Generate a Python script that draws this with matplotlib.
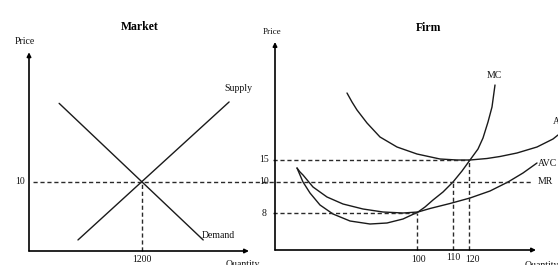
from matplotlib import pyplot as plt

plt.rcParams['font.family'] = ['Liberation Serif', 'DejaVu Serif']

W, H = 558, 265

# ---- Market panel (real units) ----
market_q_ticks = [1200]
market_p_ticks = [10]
supply_q = [520, 2125]
supply_p = [1.6, 21.6]
demand_q = [320, 1850]
demand_p = [21.4, 1.6]

# ---- Firm panel (schematic diagram units, not to scale) ----
firm_p_pos = [37, 68, 90]
firm_p_labels = ['8', '10', '15']
firm_q_pos = [142, 178, 194]
firm_q_labels = ['100', '110', '120']

mc_x = [22, 25, 28, 35, 45, 58, 75, 95, 112, 128, 143, 150, 158, 168, 178,
        187, 195, 203, 208, 213, 217, 220]
mc_y = [82, 75, 68, 57, 45, 36, 29, 26, 27, 31, 38, 43, 50, 58, 68,
        79, 90, 101, 112, 128, 143, 165]
avc_x = [22, 25, 28, 38, 52, 68, 88, 108, 128, 143, 155, 175, 195, 215,
         233, 248, 262]
avc_y = [82, 78, 75, 63, 53, 46, 41, 38, 37, 38, 41.5, 46.5, 52, 59,
         68, 77, 87]
atc_x = [72, 77, 82, 92, 105, 122, 142, 165, 182, 195, 212, 225, 242, 262,
         278, 283]
atc_y = [157, 148, 140, 127, 113, 103, 96, 91, 90, 90, 91.5, 93.5, 97, 103,
         111, 115]

fig = plt.figure(figsize=(W / 100, H / 100), dpi=100)


def px_axes(x0, y0, x1, y1):
    ax = fig.add_axes([x0 / W, 1 - y1 / H, (x1 - x0) / W, (y1 - y0) / H])
    ax.set_axis_off()
    return ax


def axis_arrows(ax, xmax, ymax):
    for tip in [(xmax, 0), (0, ymax)]:
        ax.annotate("", xy=tip, xytext=(0, 0), annotation_clip=False,
                    arrowprops=dict(arrowstyle='-|>', lw=1.2, color='black',
                                    mutation_scale=6, shrinkA=0, shrinkB=0))


curve = dict(color='#1a1a1a', lw=1.0, clip_on=False, solid_capstyle='round')
dash = dict(color='#2a2a2a', lw=1.0, linestyle=(0, (3, 2)), clip_on=False)
txt = dict(fontsize=7, color='#111111', clip_on=False)

# Market
ax1 = px_axes(29, 52, 250, 251)
ax1.set_xlim(0, 2347)
ax1.set_ylim(0, 28.84)
axis_arrows(ax1, 2336, 28.8)
ax1.plot(supply_q, supply_p, **curve)
ax1.plot(demand_q, demand_p, **curve)
ax1.plot([market_q_ticks[0]] * 2, [0, market_p_ticks[0]], **dash)
ax1.text(market_q_ticks[0], -1.25, '1200', ha='center', va='center', **txt)
ax1.text(-96, market_p_ticks[0], '10', ha='center', va='center', **txt)
ax1.text(-42, 30.3, 'Price', ha='center', va='center', **txt)
ax1.text(2092, -1.95, 'Quantity', ha='left', va='center', **txt)
ax1.text(2220, 23.6, 'Supply', ha='center', va='center', **txt)
ax1.text(2007, 2.3, 'Demand', ha='center', va='center', **txt)
ax1.text(1179, 32.5, 'Market', ha='center', va='center', fontsize=8.5,
         fontweight='bold', clip_on=False)

# Firm
ax2 = px_axes(275, 42, 558, 250)
ax2.set_xlim(0, 283)
ax2.set_ylim(0, 208)
axis_arrows(ax2, 261, 208)
ax2.plot(mc_x, mc_y, **curve)
ax2.plot(avc_x, avc_y, **curve)
ax2.plot(atc_x, atc_y, **curve)

# price 10 line runs across both panels
ax2.plot([-242, 258], [firm_p_pos[1]] * 2, **dash)
ax2.plot([-2, firm_q_pos[2]], [firm_p_pos[2]] * 2, **dash)
ax2.plot([-2, firm_q_pos[0]], [firm_p_pos[0]] * 2, **dash)
for q, p in zip(firm_q_pos, firm_p_pos):
    ax2.plot([q, q], [0, p], **dash)

for p, lab in zip(firm_p_pos, firm_p_labels):
    ax2.text(-11, p, lab, ha='center', va='center', **txt)
for q, lab, dx, dy in zip(firm_q_pos, firm_q_labels, [2, 0, 3], [-9, -8, -9]):
    ax2.text(q + dx, dy, lab, ha='center', va='center', **txt)

ax2.text(-3, 218, 'Price', ha='center', va='center', fontsize=6.5,
         color='#111111', clip_on=False)
ax2.text(250, -15, 'Quantity', ha='left', va='center', **txt)
ax2.text(219, 175, 'MC', ha='center', va='center', **txt)
ax2.text(263, 87, 'AVC', ha='left', va='center', **txt)
ax2.text(263, 68, 'MR', ha='left', va='center', **txt)
ax2.text(278, 128, 'ATC', ha='left', va='center', **txt)
ax2.text(154, 222, 'Firm', ha='center', va='center', fontsize=8.5,
         fontweight='bold', clip_on=False)

fig.savefig('out.png', dpi=100)
